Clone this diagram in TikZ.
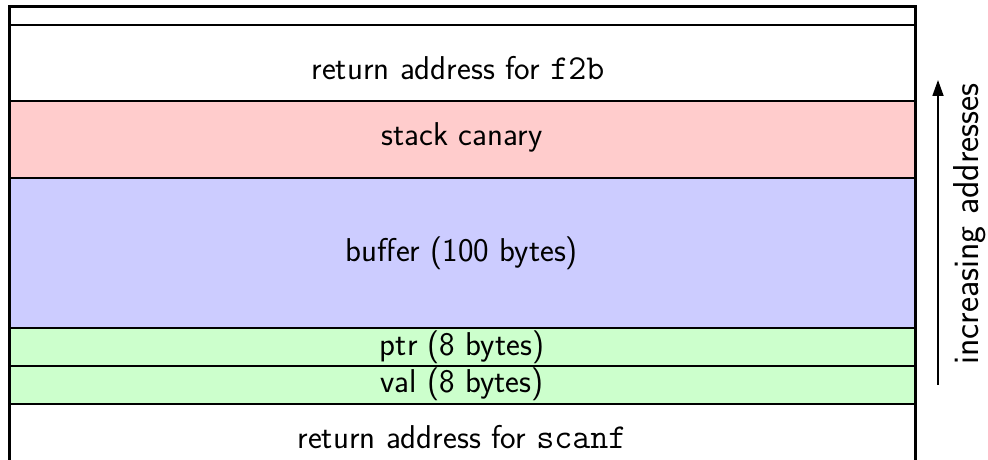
\documentclass[tikz,border=0pt]{standalone}
\usepackage{fontspec}
\usetikzlibrary{arrows.meta}
\newcommand{\codetxt}[1]{{\fontsize{35}{40}\selectfont\ttfamily #1}}
\begin{document}
\begin{tikzpicture}[x=1pt,y=1pt,
  sep/.style={line width=2pt,black},
  frame/.style={line width=3pt,black},
  lbl/.style={font=\fontsize{33}{40}\selectfont\sffamily,inner sep=0pt,anchor=center},
  upar/.style={line width=1.7pt,-{Triangle[length=16pt,width=11pt]}}
]
\useasboundingbox (0,0) rectangle (988,460);
\clip (0,0) rectangle (988,460);
% fills
\fill[red!20]   (9,282) rectangle (915,359);
\fill[blue!20]  (9,132) rectangle (915,282);
\fill[green!20] (9,56)  rectangle (915,132);
% separators
\draw[sep] (9,435) -- (915,435);
\draw[sep] (9,359) -- (915,359);
\draw[sep] (9,282) -- (915,282);
\draw[sep] (9,132) -- (915,132);
\draw[sep] (9,94)  -- (915,94);
\draw[sep] (9,56)  -- (915,56);
% frame
\draw[frame] (9,-10) -- (9,453) -- (915,453) -- (915,-10);
% labels
\node[lbl] (f2b) at (458,392) {return address for \codetxt{f2b}};
\node[lbl] (can) at (462,323) {stack canary};
\node[lbl] (buf) at (462,207) {buffer (100 bytes)};
\node[lbl] (ptr) at (462,113) {ptr (8 bytes)};
\node[lbl] (val) at (462,76)  {val (8 bytes)};
\node[lbl] (scf) at (462,23)  {return address for \codetxt{scanf}};
% arrow
\coordinate (a0) at (938,75);
\coordinate (a1) at (938,380);
\draw[upar] (a0) -- (a1);
\node[lbl,rotate=90,font=\fontsize{36}{42}\selectfont\sffamily] (inc) at (970,236) {increasing addresses};
\end{tikzpicture}
\end{document}
